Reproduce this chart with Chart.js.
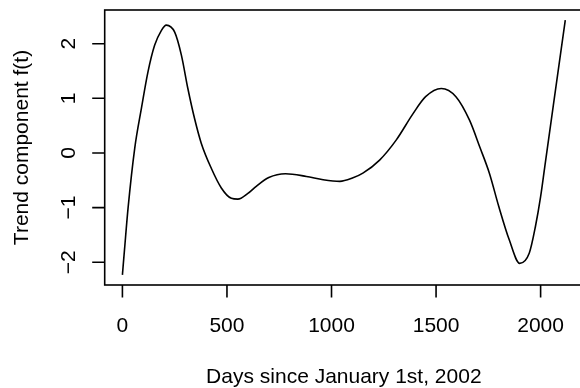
<!DOCTYPE html>
<html>
<head>
<meta charset="utf-8">
<script src="https://cdn.jsdelivr.net/npm/chart.js@4.4.0/dist/chart.umd.min.js"></script>
<style>
  html, body { margin: 0; padding: 0; background: #fff; overflow: hidden; }
  canvas { display: block; }
</style>
</head>
<body>
<canvas id="trendChart" width="592" height="388"></canvas>
<script>
// values
const days = [0, 10, 27, 59, 91, 122, 154, 186, 210, 250, 282, 313, 345, 377, 425, 473, 521, 552, 600, 640,
              700, 780, 880, 960, 1040, 1100, 1150, 1230, 1310, 1390, 1450, 1525, 1595, 1660, 1710, 1755,
              1800, 1850, 1900, 1946, 1975, 2000, 2020, 2060, 2118];
const trend = [-2.23, -1.77, -1.01, 0.09, 0.82, 1.48, 1.97, 2.24, 2.34, 2.21, 1.79, 1.18, 0.63, 0.18, -0.28,
               -0.64, -0.83, -0.845, -0.74, -0.61, -0.45, -0.38, -0.43, -0.49, -0.52, -0.46, -0.37, -0.13,
               0.24, 0.72, 1.03, 1.18, 1.03, 0.60, 0.10, -0.37, -0.98, -1.59, -2.02, -1.83, -1.35, -0.80,
               -0.25, 0.85, 2.43];
const xTicks = [0, 500, 1000, 1500, 2000];
const yTicks = [-2, -1, 0, 1, 2];
const xTitle = 'Days since January 1st, 2002';
const yTitle = 'Trend component f(t)';

const FONT = '21px "Liberation Sans", Arial, Helvetica, sans-serif';

// R style axis limits: data range padded by 4% on each side
const padRange = (vals) => {
    const lo = Math.min(...vals), hi = Math.max(...vals);
    const p = (hi - lo) * 0.04;
    return [lo - p, hi + p];
};
const [xMin, xMax] = padRange(days);
const [yMin, yMax] = padRange(trend);

const fmt = v => v < 0 ? '\u2212' + Math.abs(v) : String(v);

// box, ticks and labels drawn the way base R does it
const rAxes = {
    id: 'rAxes',
    afterDraw(chart) {
        const { ctx, chartArea: a, scales: { x, y } } = chart;
        ctx.save();
        ctx.strokeStyle = '#000';
        ctx.lineWidth = 1.6;
        ctx.strokeRect(a.left, a.top, a.right - a.left, a.bottom - a.top);

        ctx.beginPath();
        xTicks.forEach(v => {
            const px = x.getPixelForValue(v);
            ctx.moveTo(px, a.bottom);
            ctx.lineTo(px, a.bottom + 12.5);
        });
        yTicks.forEach(v => {
            const py = y.getPixelForValue(v);
            ctx.moveTo(a.left, py);
            ctx.lineTo(a.left - 12.5, py);
        });
        ctx.stroke();

        ctx.fillStyle = '#000';
        ctx.font = FONT;
        ctx.textAlign = 'center';
        ctx.textBaseline = 'alphabetic';
        xTicks.forEach(v => ctx.fillText(fmt(v), x.getPixelForValue(v), a.bottom + 47));
        ctx.fillText(xTitle, (a.left + a.right) / 2, a.bottom + 98);

        yTicks.forEach(v => {
            ctx.save();
            ctx.translate(a.left - 30, y.getPixelForValue(v));
            ctx.rotate(-Math.PI / 2);
            ctx.fillText(fmt(v), 0, 0);
            ctx.restore();
        });
        ctx.save();
        ctx.translate(a.left - 77, (a.top + a.bottom) / 2);
        ctx.rotate(-Math.PI / 2);
        ctx.fillText(yTitle, 0, 0);
        ctx.restore();

        ctx.restore();
    }
};

new Chart(document.getElementById('trendChart').getContext('2d'), {
    type: 'line',
    data: {
        datasets: [{
            data: days.map((d, i) => ({ x: d, y: trend[i] })),
            borderColor: '#000',
            borderWidth: 1.6,
            pointRadius: 0,
            cubicInterpolationMode: 'monotone',
            fill: false
        }]
    },
    options: {
        responsive: false,
        animation: false,
        devicePixelRatio: 1,
        layout: { padding: { left: 104.7, top: 10, right: 9, bottom: 103 } },
        scales: {
            x: { type: 'linear', min: xMin, max: xMax, display: false },
            y: { type: 'linear', min: yMin, max: yMax, display: false }
        },
        plugins: { legend: { display: false }, tooltip: { enabled: false } }
    },
    plugins: [rAxes]
});
</script>
</body>
</html>
